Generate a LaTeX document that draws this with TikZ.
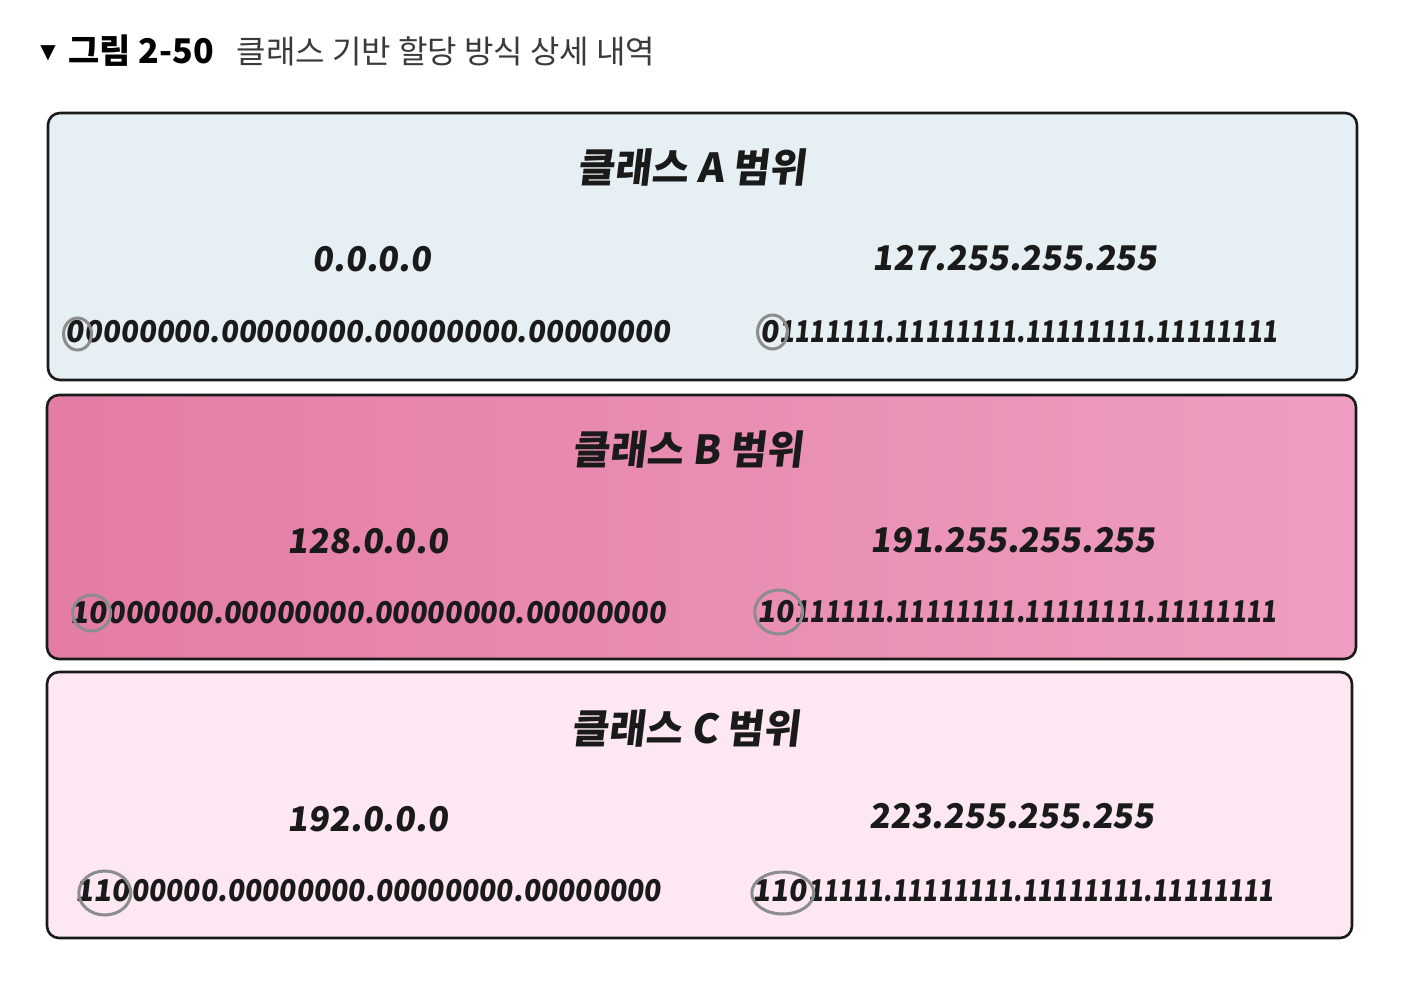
\documentclass[tikz,border=0pt]{standalone}
\usepackage{fontspec}
\usepackage{graphicx}
\setmainfont{Noto Sans CJK KR}
\newfontfamily\hand{Noto Sans CJK KR}[FakeSlant=0.12]
\newfontfamily\symb{DejaVu Sans}
\usetikzlibrary{positioning}

\definecolor{boxa}{HTML}{E6EFF3}
\definecolor{boxbl}{HTML}{E47CA4}
\definecolor{boxbr}{HTML}{EE9EC1}
\definecolor{boxc}{HTML}{FCE7F2}
\definecolor{ink}{HTML}{1A1A1A}
\definecolor{marker}{HTML}{8C8C8C}
\definecolor{capgray}{HTML}{3A3A3A}

% stretch a bit string to a given width
\newcommand{\bitrow}[2]{\resizebox{#1}{\height}{#2}}

\begin{document}
\begin{tikzpicture}[x=0.5pt,y=-0.5pt,
    rangebox/.style={draw=ink,line width=1.3pt,rounded corners=6pt},
    ttl/.style={inner sep=0pt,text=ink,font=\hand\bfseries\fontsize{20}{24}\selectfont},
    addr/.style={inner sep=0pt,text=ink,font=\hand\bfseries\fontsize{17}{20}\selectfont},
    bits/.style={inner sep=0pt,anchor=west,text=ink,font=\hand\bfseries\fontsize{15}{18}\selectfont},
    marker/.style={draw=marker,line width=1.5pt}]
    \fill[white] (0,0) rectangle (1420,1000);
    \useasboundingbox (0,0) rectangle (1420,1000);

    % caption
    \node[inner sep=0pt,font=\symb\fontsize{10}{12}\selectfont] (tri) at (48,53) {▼};
    \node[inner sep=0pt,anchor=west,font=\bfseries\fontsize{17}{20}\selectfont] (fig) at (68,51) {그림 2-50};
    \node[inner sep=0pt,right=11pt of fig,text=capgray,font=\fontsize{16}{20}\selectfont] (cap) {클래스 기반 할당 방식 상세 내역};

    % class A
    \draw[rangebox,fill=boxa] (48,113) rectangle (1357,380);
    \node[ttl] (ta) at (692,168) {클래스 A 범위};
    \node[addr] (alo) at (372,259) {0.0.0.0};
    \node[addr] (ahi) at (1015,258) {127.255.255.255};
    \node[bits] (abp) at (65,332) {0};
    \node[bits] (abl) at (abp.east) {\bitrow{293pt}{0000000.00000000.00000000.00000000}};
    \node[bits] (ahp) at (760,332) {0};
    \node[bits] (abh) at (ahp.east) {\bitrow{249pt}{1111111.11111111.11111111.11111111}};
    \draw[marker] ([xshift=1.5pt,yshift=-1pt]abp.center) ellipse [x radius=14,y radius=16];
    \draw[marker] ([xshift=1.5pt]ahp.center) ellipse [x radius=15,y radius=17];

    % class B
    \draw[rangebox,left color=boxbl,right color=boxbr] (47,395) rectangle (1356,659);
    \node[ttl] (tb) at (688,450) {클래스 B 범위};
    \node[addr] (blo) at (368,541) {128.0.0.0};
    \node[addr] (bhi) at (1013,540) {191.255.255.255};
    \node[bits] (bbp) at (70,613) {10};
    \node[bits] (bbl) at (bbp.east) {\bitrow{279pt}{000000.00000000.00000000.00000000}};
    \node[bits] (bhp) at (757,612) {10};
    \node[bits] (bbh) at (bhp.east) {\bitrow{241pt}{111111.11111111.11111111.11111111}};
    \draw[marker] ([xshift=1.5pt]bbp.center) ellipse [x radius=19,y radius=18];
    \draw[marker] ([xshift=1.5pt]bhp.center) ellipse [x radius=24,y radius=22];

    % class C
    \draw[rangebox,fill=boxc] (47,672) rectangle (1352,938);
    \node[ttl] (tc) at (686,728) {클래스 C 범위};
    \node[addr] (clo) at (368,819) {192.0.0.0};
    \node[addr] (chi) at (1012,816) {223.255.255.255};
    \node[bits] (cbp) at (75,891) {110};
    \node[bits] (cbl) at (cbp.east) {\bitrow{265pt}{00000.00000000.00000000.00000000}};
    \node[bits] (chp) at (752,891) {110};
    \node[bits] (cbh) at (chp.east) {\bitrow{233pt}{11111.11111111.11111111.11111111}};
    \draw[marker] ([xshift=1pt,yshift=-1pt]cbp.center) ellipse [x radius=26,y radius=22];
    \draw[marker] ([xshift=1.5pt,yshift=-1pt]chp.center) ellipse [x radius=31,y radius=21];
\end{tikzpicture}
\end{document}
